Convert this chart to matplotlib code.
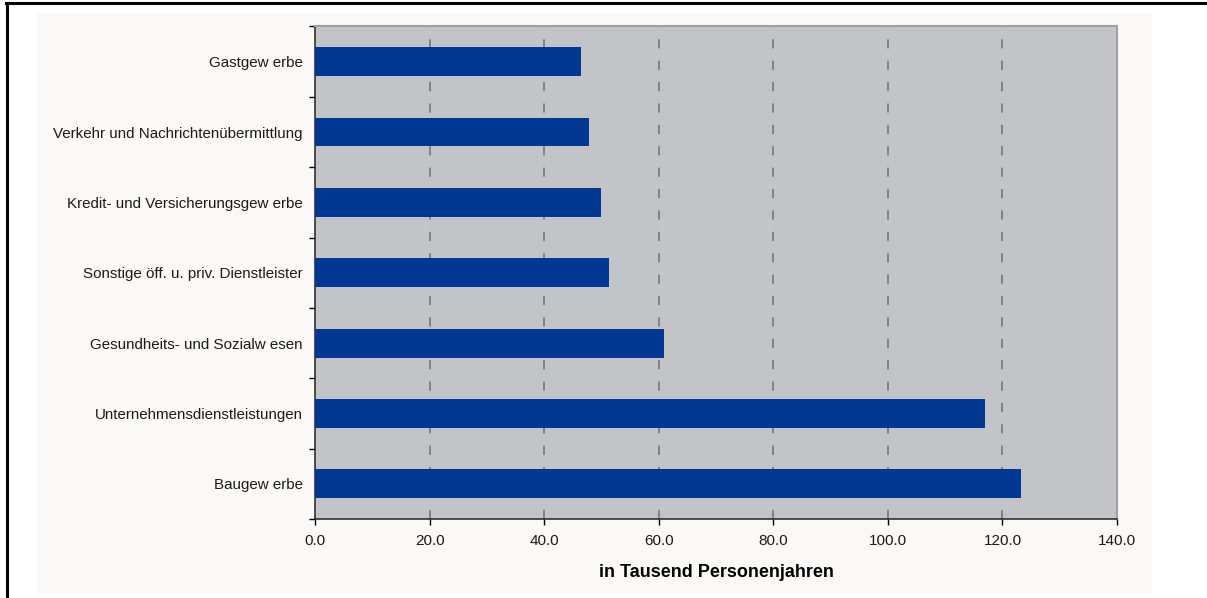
import matplotlib
matplotlib.use('Agg')
import matplotlib.pyplot as plt
from matplotlib.patches import Rectangle
from matplotlib.lines import Line2D

plt.rcParams['font.family'] = ['Liberation Sans', 'DejaVu Sans']

# Branches, bottom to top
branches = ['Baugew erbe', 'Unternehmensdienstleistungen', 'Gesundheits- und Sozialw esen',
            'Sonstige öff. u. priv. Dienstleister', 'Kredit- und Versicherungsgew erbe',
            'Verkehr und Nachrichtenübermittlung', 'Gastgew erbe']
values = [123.2, 117.0, 61.0, 51.3, 49.9, 47.8, 46.4]
x_ticks = [0, 20, 40, 60, 80, 100, 120, 140]

fig = plt.figure(figsize=(12.07, 5.98), dpi=100)
fig.patch.set_facecolor('white')

# light chart-area panel and the frame lines on the left and top
fig.add_artist(Rectangle((0.0307, 0.0084), 0.9238, 0.970, transform=fig.transFigure,
                         facecolor='#faf9f7', edgecolor='none', zorder=0))
fig.add_artist(Line2D([7 / 1207, 7 / 1207], [0, 1 - 3 / 598], transform=fig.transFigure,
                      color='black', lw=2.2))
fig.add_artist(Line2D([6 / 1207, 1], [1 - 3 / 598, 1 - 3 / 598], transform=fig.transFigure,
                      color='black', lw=2.2))

ax = fig.add_axes([0.261, 0.1321, 0.6645, 0.8236])
ax.set_facecolor('#c3c4c8')

pos = list(range(len(branches)))
ax.barh(pos, values, height=0.41, color='#003893', zorder=3)

ax.set_xlim(0, 140)
ax.set_ylim(-0.5, len(branches) - 0.5)
ax.set_xticks(x_ticks)
ax.set_xticklabels([f'{t:.1f}' for t in x_ticks], fontsize=11, color='#1a1a1a')
ax.set_yticks([p - 0.5 for p in range(len(branches) + 1)])
ax.set_yticklabels([])
ax.set_yticks(pos, minor=True)
ax.set_yticklabels(branches, minor=True, fontsize=10.9, color='#1a1a1a')
ax.tick_params(axis='y', which='minor', length=0, pad=9)
ax.tick_params(axis='y', which='major', length=4, width=1, direction='out')
ax.tick_params(axis='x', length=4, width=1, direction='out', pad=7)

for t in x_ticks[1:-1]:
    ax.axvline(t, color='#707070', lw=1.1, dashes=(6, 8), zorder=2)

for side in ('top', 'right'):
    ax.spines[side].set_color('#a0a0a0')
    ax.spines[side].set_linewidth(1.5)
for side in ('left', 'bottom'):
    ax.spines[side].set_color('#222222')
    ax.spines[side].set_linewidth(1.1)

ax.set_xlabel('in Tausend Personenjahren', fontsize=13, fontweight='bold', labelpad=11)

fig.savefig('out.png', dpi=100)
